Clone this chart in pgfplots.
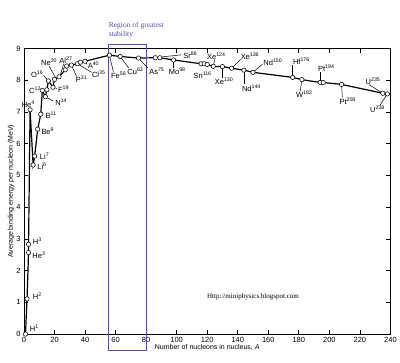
\documentclass[border=0pt]{standalone}
\usepackage{fontspec}
\setmainfont{Liberation Sans}
\newfontfamily\serifx{Liberation Serif}
\usepackage{pgfplots}
\pgfplotsset{compat=1.18}
\definecolor{regblue}{RGB}{80,80,170}
\newcommand\el[2]{#1\textsuperscript{#2}}
\begin{document}
\begin{tikzpicture}
\begin{axis}[
  width=367pt, height=286pt, scale only axis,
  xmin=0, xmax=240, ymin=0, ymax=9,
  xtick={0,20,...,240}, ytick={0,1,...,9},
  tick align=inside, major tick length=4pt,
  axis line style={line width=0.9pt},
  every tick/.style={line width=0.7pt,black},
  tick label style={font=\fontsize{7.5}{8}\selectfont},
  /pgf/number format/assume math mode=true,
  xlabel={Number of nucleons in nucleus, \textit{A}},
  ylabel={Average binding energy per nucleon (MeV)},
  label style={font=\fontsize{7}{8}\selectfont},
  xlabel style={yshift=5pt},
  ylabel style={yshift=-5pt},
  clip=false,
]
\path (axis cs:-15.7,-0.91) rectangle (axis cs:245.9,10.53);
\addplot[black, line width=1.2pt, mark=*, mark size=2.2pt,
  mark options={fill=white, draw=black, line width=0.55pt}] table {
x y
1 0
2 1.11
3 2.57
3 2.83
4 7.07
6 5.33
7 5.61
9 6.46
11 6.93
12 7.68
14 7.48
15 7.70
16 7.98
19 7.78
20 8.03
23 8.11
27 8.33
28 8.45
31 8.48
35 8.52
37 8.57
40 8.60
56 8.79
63 8.75
75 8.70
86 8.71
89 8.71
98 8.64
116 8.52
118 8.52
120 8.50
124 8.44
130 8.43
136 8.38
144 8.32
150 8.25
176 8.09
182 8.02
194 7.93
196 7.93
208 7.87
235 7.59
238 7.57
};
% region of greatest stability
\draw[regblue, line width=0.8pt] (axis cs:55,-0.5) rectangle (axis cs:80,9.14);
\node[regblue, anchor=north west, align=left, inner sep=0pt,
  font=\serifx\fontsize{7.5}{9.5}\selectfont] at (axis cs:55.5,9.85)
  {Region of greatest\\stability};
% labels
\begin{scope}[every node/.style={font=\fontsize{7.5}{8}\selectfont, inner sep=0pt}]
\node at (axis cs:6.8,0.2) {\el{H}{1}};
\node at (axis cs:8.8,1.2) {\el{H}{2}};
\node at (axis cs:8.8,2.92) {\el{H}{3}};
\node at (axis cs:9.8,2.5) {\el{He}{3}};
\node at (axis cs:2.8,7.25) {\el{He}{4}};
\node at (axis cs:11.8,5.28) {\el{Li}{6}};
\node at (axis cs:13.5,5.62) {\el{Li}{7}};
\node at (axis cs:15.6,6.38) {\el{Be}{9}};
\node at (axis cs:17.8,6.9) {\el{B}{11}};
\node at (axis cs:24.4,7.3) {\el{N}{14}};
\draw[line width=0.5pt] (axis cs:14,7.48) -- (axis cs:19,7.35);
\node at (axis cs:7.3,7.68) {\el{C}{12}};
\node at (axis cs:25.9,7.72) {\el{F}{19}};
\draw[line width=0.5pt] (axis cs:19,7.78) -- (axis cs:21.6,7.74);
\node at (axis cs:8.6,8.2) {\el{O}{16}};
\draw[line width=0.5pt] (axis cs:12.8,8.15) -- (axis cs:16,7.98);
\node at (axis cs:16.5,8.57) {\el{Ne}{20}};
\draw[line width=0.5pt] (axis cs:16.5,8.45) -- (axis cs:21,8.05);
\node at (axis cs:27.5,8.63) {\el{Al}{27}};
\draw[line width=0.5pt] (axis cs:26,8.52) -- (axis cs:24,8.2);
\node at (axis cs:37.7,8.02) {\el{P}{31}};
\draw[line width=0.5pt] (axis cs:34.5,8.12) -- (axis cs:31,8.48);
\node at (axis cs:49,8.18) {\el{Cl}{35}};
\draw[line width=0.5pt] (axis cs:44.3,8.25) -- (axis cs:35,8.52);
\node at (axis cs:45.5,8.47) {\el{A}{40}};
\draw[line width=0.5pt] (axis cs:41.3,8.5) -- (axis cs:40,8.6);
\node at (axis cs:62,8.16) {\el{Fe}{56}};
\draw[line width=0.5pt] (axis cs:58.5,8.27) -- (axis cs:56,8.79);
\node at (axis cs:73,8.3) {\el{Cu}{63}};
\draw[line width=0.5pt] (axis cs:68.5,8.39) -- (axis cs:63,8.75);
\node at (axis cs:87,8.3) {\el{As}{75}};
\draw[line width=0.5pt] (axis cs:81,8.39) -- (axis cs:75,8.70);
\node at (axis cs:109,8.8) {\el{Sr}{86}};
\draw[line width=0.5pt] (axis cs:87,8.72) -- (axis cs:103,8.8);
\node at (axis cs:100.4,8.3) {\el{Mo}{98}};
\draw[line width=0.5pt] (axis cs:98,8.4) -- (axis cs:98,8.64);
\node at (axis cs:117,8.17) {\el{Sn}{116}};
\node at (axis cs:126,8.76) {\el{Xe}{124}};
\draw[line width=0.5pt] (axis cs:124,8.44) -- (axis cs:125,8.66);
\node at (axis cs:131,7.97) {\el{Xe}{130}};
\draw[line width=0.5pt] (axis cs:130,8.43) -- (axis cs:130,8.08);
\node at (axis cs:148,8.76) {\el{Xe}{136}};
\draw[line width=0.5pt] (axis cs:136,8.38) -- (axis cs:142,8.66);
\node at (axis cs:149,7.76) {\el{Nd}{144}};
\draw[line width=0.5pt] (axis cs:144,8.32) -- (axis cs:144,7.87);
\node at (axis cs:163,8.57) {\el{Nd}{150}};
\draw[line width=0.5pt] (axis cs:150,8.25) -- (axis cs:156,8.5);
\node at (axis cs:181.7,8.6) {\el{Hf}{176}};
\draw[line width=0.5pt] (axis cs:176,8.09) -- (axis cs:176,8.48);
\node at (axis cs:183.6,7.55) {\el{W}{182}};
\draw[line width=0.5pt] (axis cs:182,8.02) -- (axis cs:181,7.67);
\node at (axis cs:198,8.38) {\el{Pt}{194}};
\draw[line width=0.5pt] (axis cs:194,7.93) -- (axis cs:194,8.26);
\node at (axis cs:212,7.34) {\el{Pt}{208}};
\draw[line width=0.5pt] (axis cs:208,7.87) -- (axis cs:208.5,7.46);
\node at (axis cs:228.6,7.97) {\el{U}{235}};
\draw[line width=0.5pt] (axis cs:235,7.59) -- (axis cs:226,7.86);
\node at (axis cs:231.5,7.08) {\el{U}{238}};
\draw[line width=0.5pt] (axis cs:238,7.57) -- (axis cs:233,7.2);
\end{scope}
\node[font=\serifx\fontsize{7}{8}\selectfont] at (axis cs:150,1.16) {Http://miniphysics.blogspot.com};
\end{axis}
\end{tikzpicture}
\end{document}
